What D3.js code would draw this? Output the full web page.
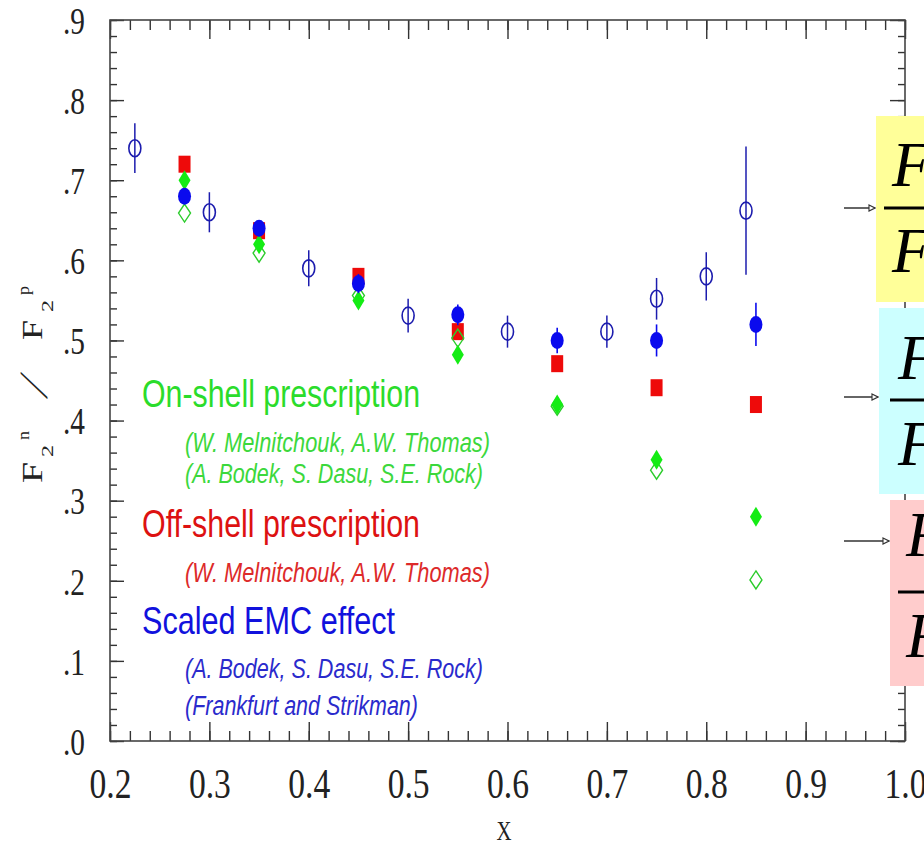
<!DOCTYPE html>
<html>
<head>
<meta charset="utf-8">
<script src="https://cdn.jsdelivr.net/npm/d3@7"></script>
<style>
  body { margin: 0; background: #fff; }
  svg { display: block; }
</style>
</head>
<body>
<svg id="chart" width="924" height="846"></svg>
<script>
// measured points (open circles, with errors)
var dataX = [0.225, 0.30, 0.40, 0.50, 0.60, 0.70, 0.75, 0.80, 0.84];
var dataY = [0.740, 0.660, 0.590, 0.531, 0.511, 0.511, 0.552, 0.580, 0.662];
var dataErr = [0.031, 0.025, 0.0225, 0.021, 0.020, 0.020, 0.026, 0.030, 0.080];

// extractions at fixed x
var modelX = [0.275, 0.35, 0.45, 0.55, 0.65, 0.75, 0.85];
var emcY = [0.680, 0.640, 0.571, 0.532, 0.500, 0.500, 0.520];
var emcErr = [0.010, 0.010, 0.012, 0.013, 0.016, 0.020, 0.027];
var offShellY = [0.720, 0.637, 0.580, 0.511, 0.471, 0.441, 0.420];
var onShellY = [0.700, 0.620, 0.550, 0.482, 0.420, 0.351, 0.280];
var onShellOpenY = [0.659, 0.609, 0.556, 0.503, 0.418, 0.338, 0.201];

var xTicks = [0.2, 0.3, 0.4, 0.5, 0.6, 0.7, 0.8, 0.9, 1.0];
var yTicks = [0, 0.1, 0.2, 0.3, 0.4, 0.5, 0.6, 0.7, 0.8, 0.9];

var legendLines = [
  { text: "On-shell prescription", color: "#2bdc2b", big: true, len: 278 },
  { text: "(W. Melnitchouk, A.W. Thomas)", color: "#3cd83c", big: false, len: 305 },
  { text: "(A. Bodek, S. Dasu, S.E. Rock)", color: "#3cd83c", big: false, len: 298 },
  { text: "Off-shell prescription", color: "#dd1111", big: true, len: 278 },
  { text: "(W. Melnitchouk, A.W. Thomas)", color: "#dd2a2a", big: false, len: 305 },
  { text: "Scaled EMC effect", color: "#1111dd", big: true, len: 253 },
  { text: "(A. Bodek, S. Dasu, S.E. Rock)", color: "#2a2acc", big: false, len: 298 },
  { text: "(Frankfurt and Strikman)", color: "#2a2acc", big: false, len: 233 }
];
var legendBase = [407, 452, 483, 537, 582, 634, 678, 715];

var svg = d3.select("#chart"),
  pLeft = 110, pRight = 905, pTop = 20, pBottom = 741;

var x = d3.scaleLinear().domain([0.2, 1.0]).range([pLeft, pRight]);
var y = d3.scaleLinear().domain([0, 0.9]).range([pBottom, pTop]);

var serif = "'Liberation Serif', 'DejaVu Serif', serif";
var sans = "'Liberation Sans', Arial, sans-serif";

// minor ticks every 0.02
var xMinor = d3.range(10, 51).map(i => i / 50);
var yMinor = d3.range(0, 46).map(i => i / 50);

svg.append("g").attr("transform", "translate(0," + pBottom + ")")
  .call(d3.axisBottom(x).tickValues(xMinor).tickSizeInner(-10).tickSizeOuter(0).tickFormat(""));
svg.append("g").attr("transform", "translate(0," + pTop + ")")
  .call(d3.axisTop(x).tickValues(xMinor).tickSizeInner(-10).tickSizeOuter(0).tickFormat(""));
svg.append("g").attr("transform", "translate(" + pLeft + ",0)")
  .call(d3.axisLeft(y).tickValues(yMinor).tickSizeInner(-7).tickSizeOuter(0).tickFormat(""));
svg.append("g").attr("transform", "translate(" + pRight + ",0)")
  .call(d3.axisRight(y).tickValues(yMinor).tickSizeInner(-7).tickSizeOuter(0).tickFormat(""));

// major ticks
var xAxis = svg.append("g").attr("transform", "translate(0," + pBottom + ")")
  .call(d3.axisBottom(x).tickValues(xTicks).tickSizeInner(-19).tickSizeOuter(0)
    .tickFormat(d3.format(".1f")));
svg.append("g").attr("transform", "translate(0," + pTop + ")")
  .call(d3.axisTop(x).tickValues(xTicks).tickSizeInner(-19).tickSizeOuter(0).tickFormat(""));
var yAxis = svg.append("g").attr("transform", "translate(" + pLeft + ",0)")
  .call(d3.axisLeft(y).tickValues(yTicks).tickSizeInner(-14).tickSizeOuter(0)
    .tickFormat(d => d.toFixed(1).replace(/^0/, "")));
svg.append("g").attr("transform", "translate(" + pRight + ",0)")
  .call(d3.axisRight(y).tickValues(yTicks).tickSizeInner(-15).tickSizeOuter(0).tickFormat(""));

svg.selectAll(".domain").remove();
svg.selectAll(".tick line").attr("stroke", "#333").attr("stroke-width", 1.4);

xAxis.selectAll("text")
  .attr("y", 57).attr("dy", null)
  .attr("font-family", serif).attr("font-size", 42).attr("fill", "#222")
  .attr("textLength", 42).attr("lengthAdjust", "spacingAndGlyphs");
yAxis.selectAll("text")
  .attr("x", -25).attr("dy", "0.36em")
  .attr("font-family", serif).attr("font-size", 37).attr("fill", "#222")
  .attr("textLength", 22).attr("lengthAdjust", "spacingAndGlyphs");

// frame
svg.append("rect")
  .attr("x", pLeft).attr("y", pTop).attr("width", pRight - pLeft).attr("height", pBottom - pTop)
  .attr("fill", "none").attr("stroke", "#444").attr("stroke-width", 1.6);

// axis titles
svg.append("text").attr("x", 504).attr("y", 840)
  .attr("text-anchor", "middle").attr("font-family", serif).attr("font-size", 28)
  .attr("textLength", 15).attr("lengthAdjust", "spacingAndGlyphs").attr("fill", "#222")
  .text("X");

var yl = svg.append("g").attr("transform", "translate(42,483) rotate(-90)")
  .attr("font-family", serif).attr("fill", "#222");
var ylParts = [
  { t: "F", u: 0, v: 0, s: 30, w: 21, sk: 0 },
  { t: "2", u: 26, v: 11, s: 16, w: 12, sk: 0 },
  { t: "n", u: 43, v: -13, s: 17, w: 9, sk: 0 },
  { t: "/", u: 84, v: 5, s: 40, w: 12, sk: -30 },
  { t: "F", u: 143, v: 0, s: 30, w: 20, sk: 0 },
  { t: "2", u: 171, v: 11, s: 16, w: 12, sk: 0 },
  { t: "p", u: 188, v: -13, s: 17, w: 9, sk: 0 }
];
yl.selectAll("text").data(ylParts).enter().append("text")
  .attr("transform", d => "translate(" + d.u + "," + d.v + ") skewX(" + d.sk + ")")
  .attr("font-size", d => d.s)
  .attr("textLength", d => d.w).attr("lengthAdjust", "spacingAndGlyphs")
  .text(d => d.t);

// legend text
svg.append("g").selectAll("text").data(legendLines).enter().append("text")
  .attr("x", d => d.big ? 142 : 185)
  .attr("y", (d, i) => legendBase[i])
  .attr("font-family", sans)
  .attr("font-size", d => d.big ? 39 : 27)
  .attr("font-style", d => d.big ? "normal" : "italic")
  .attr("fill", d => d.color)
  .attr("textLength", d => d.len).attr("lengthAdjust", "spacingAndGlyphs")
  .text(d => d.text);

// markers
function diamond(w, h) {
  return "M0," + (-h / 2) + "L" + (w / 2) + ",0L0," + (h / 2) + "L" + (-w / 2) + ",0Z";
}

var plot = svg.append("g");

plot.selectAll("rect.off").data(modelX).enter().append("rect")
  .attr("class", "off")
  .attr("x", d => x(d) - 6).attr("y", (d, i) => y(offShellY[i]) - 8.5)
  .attr("width", 12).attr("height", 17).attr("fill", "#ee0a0a");

plot.selectAll("path.onopen").data(modelX).enter().append("path")
  .attr("class", "onopen")
  .attr("d", diamond(12, 18))
  .attr("transform", (d, i) => "translate(" + x(d) + "," + y(onShellOpenY[i]) + ")")
  .attr("fill", "none").attr("stroke", "#2ccc2c").attr("stroke-width", 1.4);

plot.selectAll("path.on").data(modelX).enter().append("path")
  .attr("class", "on")
  .attr("d", diamond(12, 20))
  .attr("transform", (d, i) => "translate(" + x(d) + "," + y(onShellY[i]) + ")")
  .attr("fill", "#14ec14");

plot.selectAll("line.emc").data(modelX).enter().append("line")
  .attr("class", "emc")
  .attr("x1", d => x(d)).attr("x2", d => x(d))
  .attr("y1", (d, i) => y(emcY[i] + emcErr[i])).attr("y2", (d, i) => y(emcY[i] - emcErr[i]))
  .attr("stroke", "#0a0aee").attr("stroke-width", 1.6);

plot.selectAll("ellipse.emc").data(modelX).enter().append("ellipse")
  .attr("class", "emc")
  .attr("cx", d => x(d)).attr("cy", (d, i) => y(emcY[i]))
  .attr("rx", 6.5).attr("ry", 8.5).attr("fill", "#0a0aee");

plot.selectAll("line.data").data(dataX).enter().append("line")
  .attr("class", "data")
  .attr("x1", d => x(d)).attr("x2", d => x(d))
  .attr("y1", (d, i) => y(dataY[i] + dataErr[i])).attr("y2", (d, i) => y(dataY[i] - dataErr[i]))
  .attr("stroke", "#1c1cae").attr("stroke-width", 1.5);

plot.selectAll("ellipse.data").data(dataX).enter().append("ellipse")
  .attr("class", "data")
  .attr("cx", d => x(d)).attr("cy", (d, i) => y(dataY[i]))
  .attr("rx", 6).attr("ry", 8.5)
  .attr("fill", "none").attr("stroke", "#1c1cae").attr("stroke-width", 1.6);

// side boxes with fractions (cut at the right edge, as in the original slide)
var boxes = [
  { x: 876, y0: 116, y1: 302, fill: "#ffff99", arrow: 208, fx: 892, top: 186, bar: 208, bot: 272 },
  { x: 879, y0: 308, y1: 494, fill: "#ccffff", arrow: 397, fx: 898, top: 379, bar: 400, bot: 465 },
  { x: 890, y0: 500, y1: 686, fill: "#ffcccc", arrow: 541, fx: 906, top: 556, bar: 592, bot: 657 }
];

svg.append("defs").append("marker")
  .attr("id", "ah").attr("viewBox", "0 0 10 10").attr("refX", 9).attr("refY", 5)
  .attr("markerWidth", 5).attr("markerHeight", 5).attr("orient", "auto")
  .append("path").attr("d", "M1,1L9,5L1,9Z").attr("fill", "#fff").attr("stroke", "#333").attr("stroke-width", 1.5);

var bx = svg.append("g").selectAll("g").data(boxes).enter().append("g");
bx.append("rect")
  .attr("x", d => d.x).attr("y", d => d.y0).attr("width", d => 924 - d.x).attr("height", d => d.y1 - d.y0)
  .attr("fill", d => d.fill);
bx.append("line")
  .attr("x1", 844).attr("x2", d => d.x - 1).attr("y1", d => d.arrow).attr("y2", d => d.arrow)
  .attr("stroke", "#333").attr("stroke-width", 1.5).attr("marker-end", "url(#ah)");
bx.append("line")
  .attr("x1", d => d.fx - 8).attr("x2", 924).attr("y1", d => d.bar).attr("y2", d => d.bar)
  .attr("stroke", "#000").attr("stroke-width", 3);
bx.append("text")
  .attr("x", d => d.fx).attr("y", d => d.top)
  .attr("font-family", serif).attr("font-style", "italic").attr("font-size", 64).text("F");
bx.append("text")
  .attr("x", d => d.fx).attr("y", d => d.bot)
  .attr("font-family", serif).attr("font-style", "italic").attr("font-size", 64).text("F");
</script>
</body>
</html>
